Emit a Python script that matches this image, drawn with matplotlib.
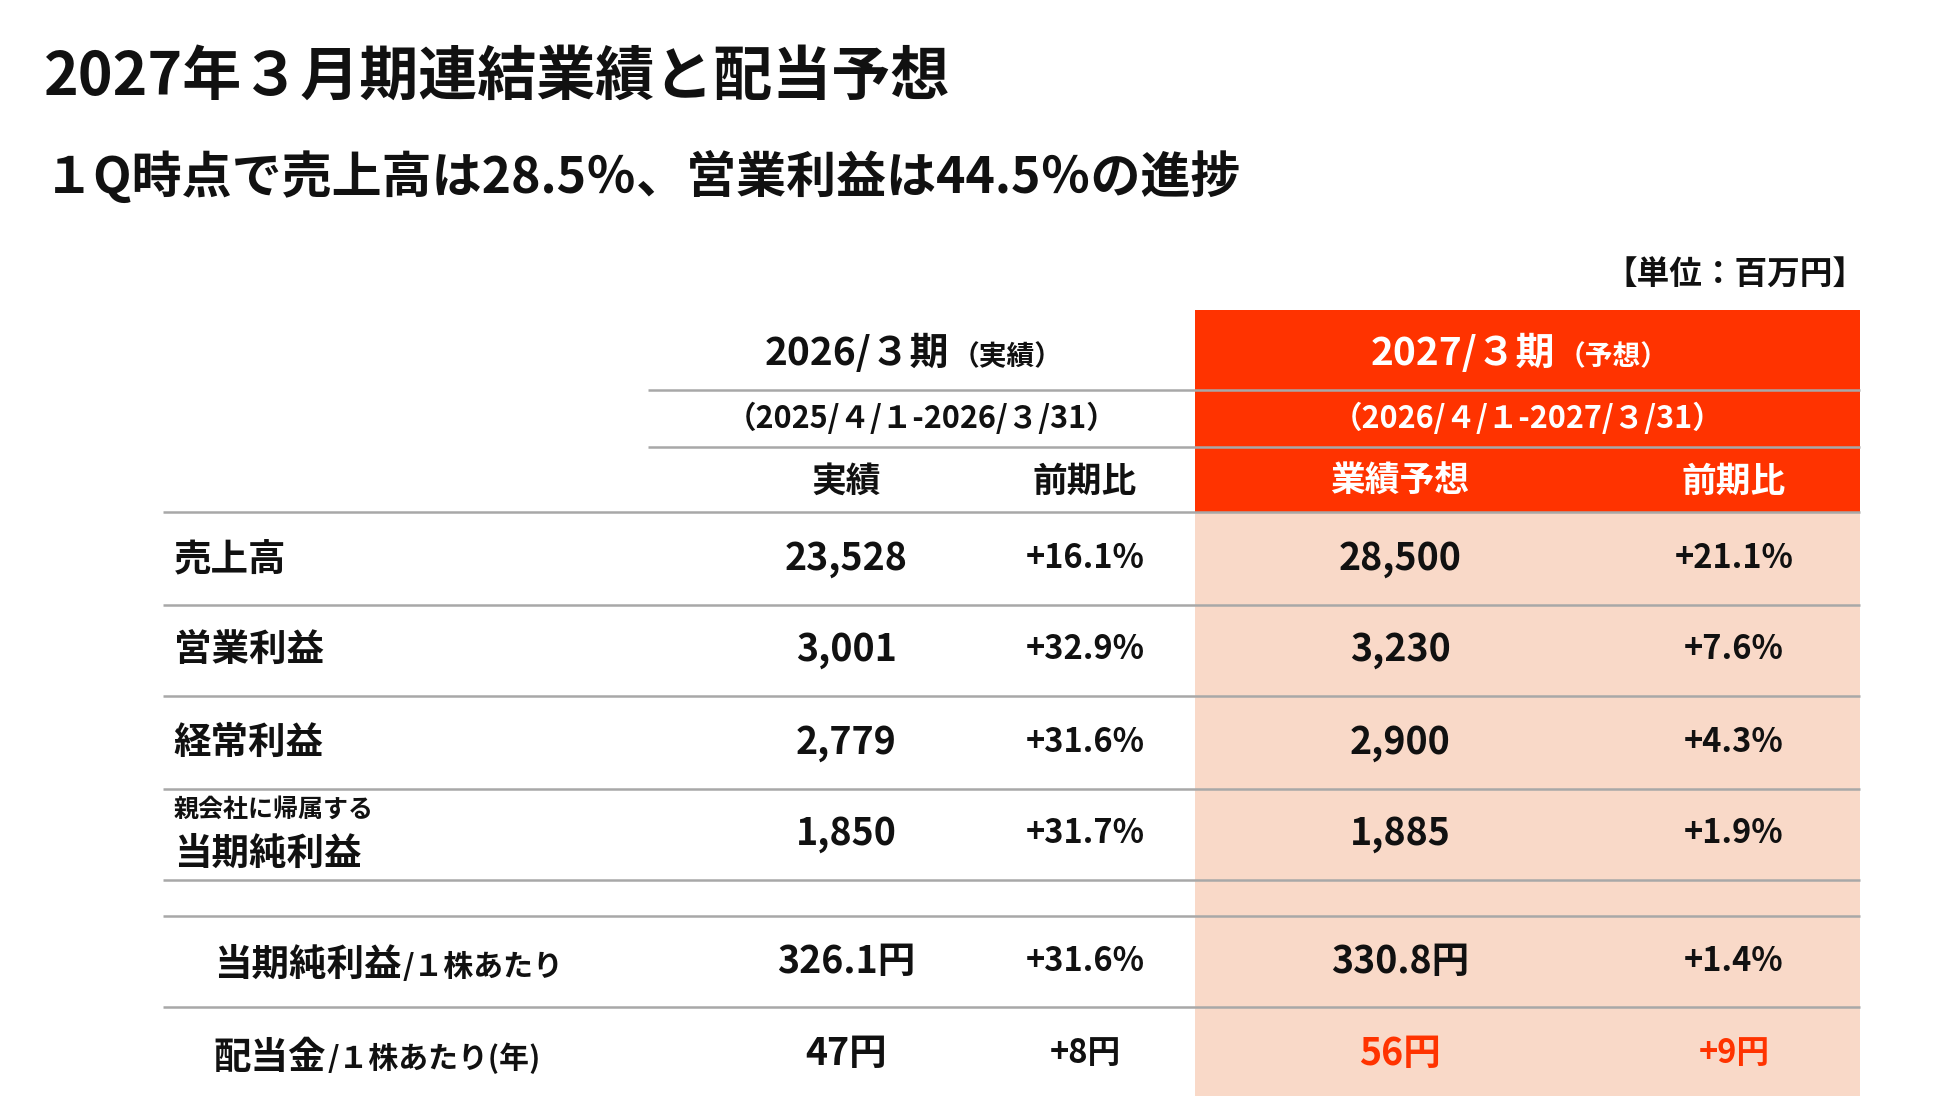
import matplotlib
matplotlib.use("Agg")
import matplotlib.pyplot as plt
from matplotlib.patches import Rectangle

plt.rcParams['font.family'] = ['Noto Sans CJK JP', 'DejaVu Sans']

# ---------------- data ----------------
title = "2027年３月期連結業績と配当予想"
subtitle = "１Q時点で売上高は28.5％、営業利益は44.5％の進捗"
unit_label = "【単位：百万円】"

period_prev = "2026/３期"
period_prev_note = "（実績）"
period_next = "2027/３期"
period_next_note = "（予想）"
range_prev = "（2025/４/１-2026/３/31）"
range_next = "（2026/４/１-2027/３/31）"
col_headers = ["実績", "前期比", "業績予想", "前期比"]

categories = ["売上高", "営業利益", "経常利益", "当期純利益"]
category_notes = ["", "", "", "親会社に帰属する"]
actual = ["23,528", "3,001", "2,779", "1,850"]
actual_yoy = ["+16.1%", "+32.9%", "+31.6%", "+31.7%"]
forecast = ["28,500", "3,230", "2,900", "1,885"]
forecast_yoy = ["+21.1%", "+7.6%", "+4.3%", "+1.9%"]

per_share_labels = ["当期純利益", "配当金"]
per_share_suffix = ["/１株あたり", "/１株あたり(年)"]
per_share_actual = ["326.1円", "47円"]
per_share_actual_yoy = ["+31.6%", "+8円"]
per_share_forecast = ["330.8円", "56円"]
per_share_forecast_yoy = ["+1.4%", "+9円"]
per_share_highlight = [False, True]

# ---------------- style ----------------
ORANGE = "#FF3300"
LIGHT = "#F9D9C8"
GRAY = "#A8A8A8"
BLACK = "#111111"

FS_VAL = 27
FS_PCT = 23.5
FS_LABEL = 27

W, H = 1560, 877
fig = plt.figure(figsize=(19.5, 10.96), dpi=100)
ax = fig.add_axes([0, 0, 1, 1])
ax.set_xlim(0, W)
ax.set_ylim(H, 0)
ax.axis('off')

# layout (in display units)
x_left, x_mid, x_right = 130, 956, 1488
x_hdr_left = 518
col_x = [677, 868, 1120, 1387]

# backgrounds
ax.add_patch(Rectangle((x_mid, 248), x_right - x_mid, 162, color=ORANGE, lw=0, zorder=1))
ax.add_patch(Rectangle((x_mid, 410), x_right - x_mid, 470, color=LIGHT, lw=0, zorder=1))

# titles
ax.text(35, 62, title, fontsize=42.5, fontweight='bold', color=BLACK, va='center', ha='left')
ax.text(35, 142, subtitle, fontsize=36, fontweight='bold', color=BLACK, va='center', ha='left')
ax.text(1492, 220, unit_label, fontsize=23.5, fontweight='bold', color=BLACK, va='center', ha='right')

renderer = fig.canvas.get_renderer()
inv = ax.transData.inverted()


def width_of(t):
    bb = t.get_window_extent(renderer=renderer)
    (x0, _), (x1, _) = inv.transform([[bb.x0, bb.y0], [bb.x1, bb.y1]])
    return x1 - x0


def two_part(xc, y, main, note, color, fs_main, fs_note, center=True, gap=2):
    t1 = ax.text(0, y, main, fontsize=fs_main, fontweight='bold', color=color,
                 va='baseline', ha='left', zorder=3)
    t2 = ax.text(0, y, note, fontsize=fs_note, fontweight='bold', color=color,
                 va='baseline', ha='left', zorder=3)
    w1, w2 = width_of(t1), width_of(t2)
    x0 = xc - (w1 + gap + w2) / 2 if center else xc
    t1.set_x(x0)
    t2.set_x(x0 + w1 + gap)


# header row 1
two_part(731, 292, period_prev, period_prev_note, BLACK, 28, 20)
two_part(1216, 292, period_next, period_next_note, "white", 28, 20)
# header row 2
ax.text(737, 335, range_prev, fontsize=22, fontweight='bold', color=BLACK, ha='center', va='center', zorder=3)
ax.text(1222, 335, range_next, fontsize=22, fontweight='bold', color="white", ha='center', va='center', zorder=3)
# header row 3
for i, (x, h) in enumerate(zip(col_x, col_headers)):
    ax.text(x, 385, h, fontsize=25, fontweight='bold', color=BLACK if i < 2 else "white",
            ha='center', va='center', zorder=3)

# header lines
for yy in (312, 358):
    ax.plot([x_hdr_left, x_right], [yy, yy], color=GRAY, lw=1.8, zorder=2, solid_capstyle='butt')

# main rows
row_y = [447, 520, 594, 667]
for i, cat in enumerate(categories):
    y = row_y[i]
    if category_notes[i]:
        ax.text(139, y - 19, category_notes[i], fontsize=18, fontweight='bold', color=BLACK,
                ha='left', va='center', zorder=3)
        ax.text(139, y + 16, cat, fontsize=FS_LABEL, fontweight='bold', color=BLACK,
                ha='left', va='center', zorder=3)
    else:
        ax.text(139, y, cat, fontsize=FS_LABEL, fontweight='bold', color=BLACK,
                ha='left', va='center', zorder=3)
    for x, v, fs in zip(col_x, [actual[i], actual_yoy[i], forecast[i], forecast_yoy[i]],
                        [FS_VAL, FS_PCT, FS_VAL, FS_PCT]):
        ax.text(x, y, v, fontsize=fs, fontweight='bold', color=BLACK, ha='center',
                va='center', zorder=3)

# per-share rows
ps_y = [769, 843]
for i in range(len(per_share_labels)):
    y = ps_y[i]
    two_part(171, y + 12, per_share_labels[i], per_share_suffix[i], BLACK, FS_LABEL, 21.5,
             center=False, gap=1)
    hl = ORANGE if per_share_highlight[i] else BLACK
    vals = [per_share_actual[i], per_share_actual_yoy[i], per_share_forecast[i],
            per_share_forecast_yoy[i]]
    colors = [BLACK, BLACK, hl, hl]
    for x, v, c, fs in zip(col_x, vals, colors, [FS_VAL, FS_PCT, FS_VAL, FS_PCT]):
        ax.text(x, y, v, fontsize=fs, fontweight='bold', color=c, ha='center',
                va='center', zorder=3)

# body lines
for yy in (410, 484, 557, 631, 704, 733, 806, 880):
    ax.plot([x_left, x_right], [yy, yy], color=GRAY, lw=1.8, zorder=2, solid_capstyle='butt')

fig.savefig("out.png", dpi=100, facecolor="white")
